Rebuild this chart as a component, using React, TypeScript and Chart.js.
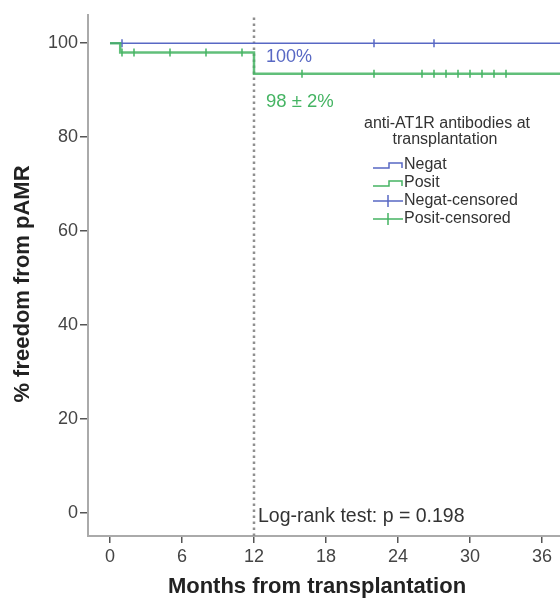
import React, { useEffect, useRef } from "react";
import { Chart, registerables } from "chart.js";

Chart.register(...registerables);

// ---- data ----
const monthTicks = [0, 6, 12, 18, 24, 30, 36];
const pctTicks = [0, 20, 40, 60, 80, 100];
const negatTimes = [0, 38];
const negatSurv = [100, 100];
const positTimes = [0, 0.85, 12, 38];
const positSurv = [100, 98, 93.5, 93.5];
const negatCensored = [1, 22, 27];
const positCensored = [1, 2, 5, 8, 11, 16, 22, 26, 27, 28, 29, 30, 31, 32, 33];
const landmarkMonth = [12];
const negatLabel = "100%";
const positLabel = "98 ± 2%";
const logRankText = "Log-rank test: p = 0.198";
const legendTitle = ["anti-AT1R antibodies at", "transplantation"];
const legendItems = ["Negat", "Posit", "Negat-censored", "Posit-censored"];

const BLUE = "#5868c4";
const GREEN = "#45b463";
const FONT = '"Liberation Sans", Arial, Helvetica, sans-serif';

function survAt(times: number[], surv: number[], t: number) {
  let s = surv[0];
  for (let i = 0; i < times.length; i++) if (times[i] <= t) s = surv[i];
  return s;
}

const textPlugin = {
  id: "kmText",
  afterDraw(chart: any) {
    const ctx = chart.ctx as CanvasRenderingContext2D;
    ctx.save();
    // axis titles
    ctx.fillStyle = "#222";
    ctx.font = `bold 22px ${FONT}`;
    ctx.textAlign = "center";
    ctx.textBaseline = "middle";
    ctx.fillText("Months from transplantation", 317, 587);
    ctx.save();
    ctx.translate(23, 284);
    ctx.rotate(-Math.PI / 2);
    ctx.fillText("% freedom from pAMR", 0, 0);
    ctx.restore();

    // annotations
    ctx.textAlign = "left";
    ctx.font = `18px ${FONT}`;
    ctx.fillStyle = BLUE;
    ctx.fillText(negatLabel, 266, 57);
    ctx.font = `18.5px ${FONT}`;
    ctx.fillStyle = GREEN;
    ctx.fillText(positLabel, 266, 102);
    ctx.font = `19.5px ${FONT}`;
    ctx.fillStyle = "#333";
    ctx.fillText(logRankText, 258, 517);

    // legend
    ctx.font = `16px ${FONT}`;
    ctx.textAlign = "center";
    ctx.fillStyle = "#333";
    ctx.fillText(legendTitle[0], 447, 124);
    ctx.fillText(legendTitle[1], 445, 140);
    const ys = [165, 183, 201, 219];
    const cols = [BLUE, GREEN, BLUE, GREEN];
    ctx.textAlign = "left";
    legendItems.forEach((lab, i) => {
      const y = ys[i];
      ctx.strokeStyle = cols[i];
      ctx.lineWidth = 1.5;
      ctx.beginPath();
      if (i < 2) {
        ctx.moveTo(373, y + 3);
        ctx.lineTo(389, y + 3);
        ctx.lineTo(389, y - 2);
        ctx.lineTo(402, y - 2);
        ctx.lineTo(402, y + 3);
      } else {
        ctx.moveTo(373, y);
        ctx.lineTo(403, y);
        ctx.moveTo(388, y - 6);
        ctx.lineTo(388, y + 6);
      }
      ctx.stroke();
      ctx.fillStyle = "#333";
      ctx.fillText(lab, 404, y);
    });
    ctx.restore();
  },
};

export default function App() {
  const ref = useRef<HTMLCanvasElement>(null);
  useEffect(() => {
    if (!ref.current) return;
    const negatLine = negatTimes.map((t, i) => ({ x: t, y: negatSurv[i] }));
    const positLine = positTimes.map((t, i) => ({ x: t, y: positSurv[i] }));
    const negatCens = negatCensored.map((t) => ({ x: t, y: survAt(negatTimes, negatSurv, t) }));
    const positCens = positCensored.map((t) => ({ x: t, y: survAt(positTimes, positSurv, t) }));
    const landmark = [
      { x: landmarkMonth[0], y: -5 },
      { x: landmarkMonth[0], y: 106 },
    ];
    const chart = new Chart(ref.current, {
      type: "scatter",
      data: {
        datasets: [
          {
            label: "landmark",
            data: landmark,
            showLine: true,
            borderColor: "#8f8f8f",
            borderWidth: 2.5,
            borderDash: [2.5, 3.5],
            pointRadius: 0,
            order: 5,
          },
          {
            label: "Negat",
            data: negatLine,
            showLine: true,
            stepped: true,
            borderColor: BLUE,
            borderWidth: 1.5,
            pointRadius: 0,
            order: 4,
          },
          {
            label: "Negat-censored",
            data: negatCens,
            showLine: false,
            pointStyle: "line",
            rotation: 90,
            pointRadius: 4,
            borderColor: BLUE,
            borderWidth: 1.5,
            order: 3,
          },
          {
            label: "Posit",
            data: positLine,
            showLine: true,
            stepped: true,
            borderColor: "rgba(69,180,99,0.85)",
            borderWidth: 2.5,
            pointRadius: 0,
            order: 2,
          },
          {
            label: "Posit-censored",
            data: positCens,
            showLine: false,
            pointStyle: "line",
            rotation: 90,
            pointRadius: 4,
            borderColor: GREEN,
            borderWidth: 1.5,
            order: 1,
          },
        ],
      },
      options: {
        animation: false,
        responsive: false,
        maintainAspectRatio: false,
        layout: { autoPadding: false, padding: { top: 15, right: 0, left: 0, bottom: 0 } },
        plugins: { legend: { display: false }, tooltip: { enabled: false } },
        scales: {
          x: {
            type: "linear",
            min: -1.8333,
            max: 37.5,
            afterBuildTicks: (s: any) => {
              s.ticks = monthTicks.map((v) => ({ value: v }));
            },
            afterFit: (s: any) => {
              s.height = 65;
              s.paddingLeft = 0;
              s.paddingRight = 0;
            },
            ticks: {
              color: "#444",
              font: { size: 18, family: FONT },
              padding: 3,
              maxRotation: 0,
              autoSkip: false,
            },
            grid: {
              display: true,
              drawOnChartArea: false,
              drawTicks: true,
              tickLength: 7,
              color: "#555",
              lineWidth: 1.5,
            },
            border: { display: true, color: "#aaa", width: 2 },
          },
          y: {
            type: "linear",
            min: -5,
            max: 106,
            afterBuildTicks: (s: any) => {
              s.ticks = pctTicks.map((v) => ({ value: v }));
            },
            afterFit: (s: any) => {
              s.width = 88;
              s.paddingTop = 0;
              s.paddingBottom = 0;
            },
            ticks: {
              color: "#444",
              font: { size: 18, family: FONT },
              padding: 2,
              autoSkip: false,
            },
            grid: {
              display: true,
              drawOnChartArea: false,
              drawTicks: true,
              tickLength: 8,
              color: "#555",
              lineWidth: 1.5,
            },
            border: { display: true, color: "#aaa", width: 2 },
          },
        },
      },
      plugins: [textPlugin],
    });
    return () => chart.destroy();
  }, []);
  return (
    <div style={{ position: "absolute", left: 0, top: 0, width: 560, height: 601, background: "#fff" }}>
      <canvas ref={ref} width={560} height={601} style={{ width: 560, height: 601, display: "block" }} />
    </div>
  );
}
